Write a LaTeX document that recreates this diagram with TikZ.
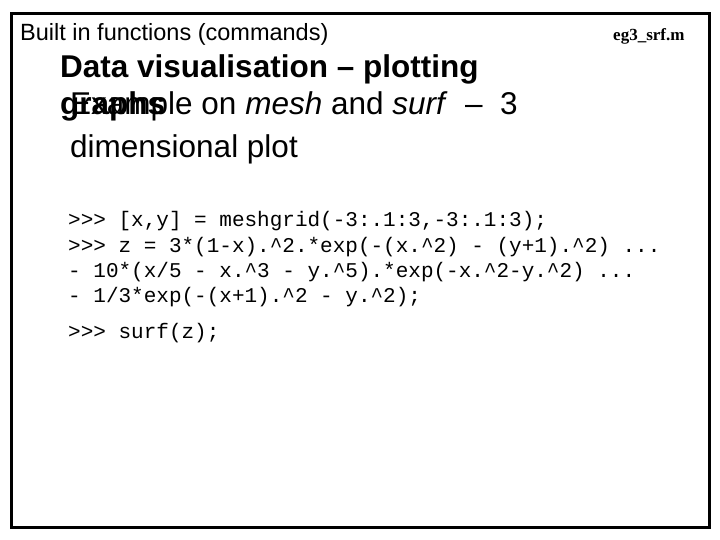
\documentclass[tikz,border=0pt]{standalone}
\usepackage{fontspec}
\setmainfont{Liberation Sans}
\newfontfamily\timesfont{Liberation Serif}
\newfontfamily\courfont{Liberation Mono}
\begin{document}
\begin{tikzpicture}[x=1pt,y=-1pt]
        % --- styles ---
        \tikzset{
            slidetext/.style={anchor=base west, inner sep=0pt},
            codeline/.style={slidetext, font=\courfont\fontsize{21}{21}\selectfont},
        }
        \useasboundingbox (0,0) rectangle (720,540);
        % --- frame ---
        \draw[line width=3pt] (11,14) rectangle (709,527);

        % --- header ---
        \node[slidetext, font=\fontsize{23.5}{23.5}\selectfont] (header) at (20,41) {Built in functions (commands)};
        \node[slidetext, font=\timesfont\bfseries\fontsize{17}{17}\selectfont] (fname) at (613,41) {eg3\_srf.m};

        % --- title ---
        \node[slidetext, font=\bfseries\fontsize{31.5}{31.5}\selectfont] (title) at (60,78) {Data visualisation -- plotting};
        \node[slidetext, font=\bfseries\fontsize{31.5}{31.5}\selectfont] (titletwo) at (60,115) {graphs};
        \node[slidetext, font=\fontsize{31.5}{31.5}\selectfont] (sub) at (70,115) {Example on \textit{mesh} and \textit{surf}\ \ --\ \ 3};
        \node[slidetext, font=\fontsize{31.5}{31.5}\selectfont] (subtwo) at (70,158) {dimensional plot};

        % --- code ---
        \node[codeline] (c1) at (68,226) {>>> [x,y] = meshgrid(-3:.1:3,-3:.1:3);};
        \node[codeline] (c2) at (68,252) {>>> z = 3*(1-x).\^{}2.*exp(-(x.\^{}2) - (y+1).\^{}2) ...};
        \node[codeline] (c3) at (68,277) {- 10*(x/5 - x.\^{}3 - y.\^{}5).*exp(-x.\^{}2-y.\^{}2) ...};
        \node[codeline] (c4) at (68,302) {- 1/3*exp(-(x+1).\^{}2 - y.\^{}2);};
        \node[codeline] (c5) at (68,338) {>>> surf(z);};
\end{tikzpicture}
\end{document}
